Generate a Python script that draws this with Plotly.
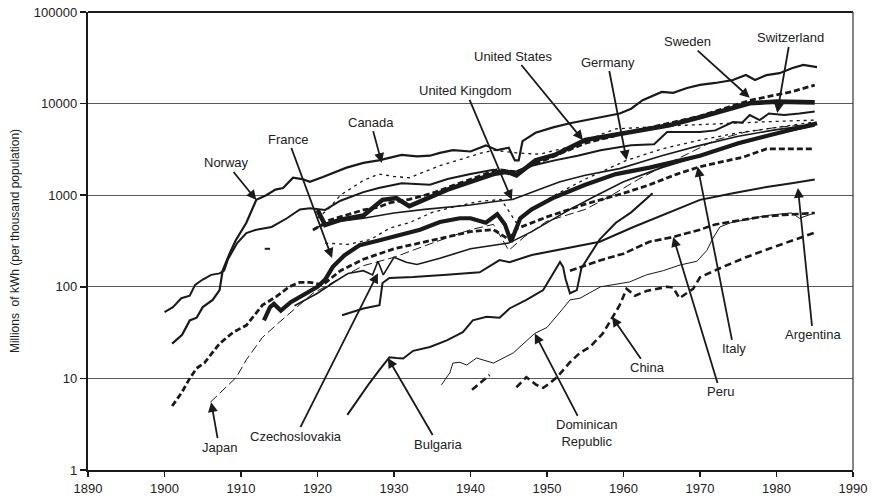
import plotly.graph_objects as go
import math

# ---------------- data (kWh per capita) ----------------
norway_years = [1901, 1902.3, 1903.3, 1904.2, 1905, 1906.3, 1907.2, 1907.6, 1908.5, 1909.3, 1910.7, 1912, 1913.3, 1914.5,
                1915.5, 1916.8, 1918, 1919, 1920.7, 1922, 1923.8, 1926, 1928, 1931, 1933, 1934.7, 1936, 1937.7, 1940,
                1942, 1943.5, 1945, 1945.8, 1946.3, 1946.8, 1948.5, 1950.8, 1953, 1955.2, 1957, 1959.5, 1961, 1962.5,
                1965, 1966.5, 1968.3, 1970, 1972, 1974.3, 1976, 1977.2, 1978.7, 1980.4, 1982, 1983.5, 1985.3]
norway_values = [24, 30, 43, 46, 60, 72, 92, 150, 230, 320, 500, 890, 1000, 1150,
                 1200, 1550, 1500, 1400, 1580, 1750, 2000, 2250, 2400, 2750, 2650, 2700, 2900, 3100, 3000,
                 3500, 3100, 3300, 2400, 2400, 3900, 4800, 5500, 6100, 6600, 7100, 7800, 8800, 10900,
                 13400, 13100, 14800, 16000, 16800, 18100, 20500, 18100, 20500, 21500, 24300, 26400, 25000]

canada_years = [1920, 1921.5, 1923, 1926, 1928, 1930, 1932, 1934, 1936, 1939, 1941.5, 1943, 1946, 1949, 1952.5,
                1955, 1957, 1959, 1962, 1966, 1970, 1975, 1980, 1985]
canada_values = [560, 720, 1000, 1450, 1700, 1600, 1550, 1800, 2100, 2500, 2900, 3100, 2900, 2800, 3300,
                 3800, 4600, 5300, 5500, 5700, 5900, 6200, 6400, 6600]

us_years = [1920, 1921, 1923, 1926, 1928.5, 1930.3, 1932, 1934.7, 1937, 1940, 1943, 1944.8, 1946, 1948.5, 1951,
            1955, 1957, 1961, 1966, 1970, 1974, 1976.5, 1980, 1985]
us_values = [690, 473, 540, 600, 890, 930, 760, 950, 1150, 1400, 1700, 1800, 1650, 2400, 2750,
             4000, 4300, 4900, 5800, 7100, 8900, 10100, 10500, 10300]

sweden_years = [1919.4, 1921.6, 1923.8, 1926, 1928, 1929.5, 1932, 1935, 1938, 1941, 1943.5, 1946, 1950, 1955,
                1960, 1965, 1970, 1974, 1976.5, 1979, 1982, 1985]
sweden_values = [417, 536, 608, 690, 740, 830, 900, 1050, 1300, 1600, 1900, 1800, 2500, 3700,
                 4700, 5900, 7300, 9300, 10800, 12000, 13500, 15900]

swiss_years = [1900, 1901.1, 1902.2, 1903.3, 1904, 1905, 1906.1, 1907.2, 1907.8, 1908.3, 1909.5, 1910.7, 1912,
               1914, 1916, 1917.7, 1919, 1921, 1923, 1926, 1928, 1931, 1934.7, 1937, 1940, 1943, 1945, 1948,
               1951, 1954, 1957, 1961, 1964, 1965.7, 1970, 1972, 1974.3, 1975.5, 1976.5, 1977.8, 1979, 1981,
               1983, 1985]
swiss_values = [53, 60, 75, 80, 105, 120, 135, 140, 150, 200, 300, 385, 420,
                450, 560, 700, 720, 690, 870, 1080, 1200, 1350, 1300, 1500, 1700, 1900, 1700, 2100,
                2400, 2700, 3100, 3500, 3600, 4900, 4900, 5100, 6300, 6200, 7500, 6600, 7800, 7500,
                7800, 8200]

france_years = [1913, 1913.8, 1914.3, 1915.2, 1916.5, 1917.7, 1920, 1921, 1922, 1923.5, 1925.5, 1928, 1930.7,
                1933.4, 1936, 1938.6, 1940, 1942, 1943.5, 1944.5, 1945.3, 1946.5, 1948, 1951, 1955, 1959,
                1963.4, 1970, 1975, 1978, 1983, 1985.3]
france_values = [43, 60, 65, 55, 68, 78, 100, 120, 165, 220, 285, 320, 370,
                 420, 510, 560, 560, 500, 620, 480, 310, 560, 700, 950, 1300, 1700,
                 2000, 2700, 3700, 4300, 5400, 6100]

italy_years = [1901, 1902.2, 1903.3, 1904.2, 1905.2, 1906.3, 1907.2, 1909, 1910.7, 1912.8, 1914.6, 1916.3,
               1917.7, 1919, 1920.7, 1923, 1926, 1930, 1935, 1940, 1943, 1945, 1946, 1948, 1950, 1955, 1960,
               1963.4, 1967, 1970, 1975.6, 1978.7, 1982, 1985]
italy_values = [5, 6.9, 10, 12.9, 14.7, 19, 24, 32, 38, 63, 78, 100,
                112, 112, 105, 150, 200, 260, 320, 400, 420, 330, 430, 500, 580, 800, 1050,
                1300, 1700, 2050, 2600, 3200, 3200, 3200]

japan_years = [1906, 1908, 1909.4, 1910.7, 1912.8, 1915, 1917.3, 1919.4, 1921, 1923, 1926, 1930, 1935, 1940,
               1943, 1945, 1947, 1950, 1955, 1958, 1962, 1966, 1970, 1972, 1976, 1980, 1985]
japan_values = [5.5, 8, 10.3, 16, 28, 41, 60, 85, 100, 125, 170, 210, 300, 420,
                480, 250, 350, 520, 700, 950, 1500, 2250, 3300, 4000, 4900, 5500, 6000]

germany_years = [1921, 1924, 1927, 1929.5, 1932, 1935, 1938, 1941, 1944, 1946, 1948, 1951, 1955, 1960.4, 1965,
                 1970, 1975, 1980, 1985]
germany_values = [300, 290, 330, 440, 500, 650, 750, 850, 900, 500, 700, 1000, 1500, 2400, 3200,
                  4000, 4800, 5500, 6300]

uk_years = [1920, 1923, 1926, 1930, 1934, 1937, 1940, 1943, 1945.5, 1949.5, 1951.7, 1955, 1959.5, 1965, 1970,
            1975, 1980, 1985]
uk_values = [450, 520, 560, 640, 700, 740, 780, 850, 900, 1200, 1400, 1650, 1950, 2700, 3500,
             4400, 5200, 5900]

czech_years = [1917, 1920, 1922, 1924, 1926, 1927.2, 1927.9, 1928.6, 1930, 1931.6, 1933, 1936, 1940, 1945,
               1948, 1950, 1953, 1956, 1960, 1965, 1970, 1975, 1980, 1985]
czech_values = [62, 85, 110, 140, 150, 135, 190, 135, 210, 185, 175, 205, 260, 300,
                400, 500, 700, 950, 1400, 2000, 2700, 3600, 4700, 5700]

argentina_years = [1923.2, 1926, 1928.1, 1928.5, 1929.4, 1932.5, 1936.9, 1941.2, 1943.8, 1945.1, 1948, 1952.6,
                   1956.9, 1961.3, 1965, 1970, 1974.3, 1978.7, 1982, 1985]
argentina_values = [49, 58, 63, 110, 125, 128, 135, 144, 196, 186, 222, 265,
                    310, 450, 600, 890, 1050, 1230, 1350, 1480]

bulgaria_years = [1923.9, 1925.5, 1926.8, 1928.1, 1929.4, 1930.3, 1931.2, 1932.5, 1934.7, 1936.9, 1939, 1940.3,
                  1942.1, 1943.8, 1945.1, 1947.3, 1949.5, 1950.8, 1951.7, 1952.1, 1952.4, 1953, 1953.9, 1954.5,
                  1956.9, 1959, 1961, 1963.8]
bulgaria_values = [4, 6.3, 8.9, 12.4, 17, 16.7, 16.5, 20, 22, 26, 32, 43,
                   47, 46, 58, 72, 92, 140, 187, 165, 124, 85, 92, 160,
                   330, 500, 650, 1050]

dominican_years = [1936.2, 1937.3, 1937.7, 1938.6, 1939.5, 1940.8, 1943, 1945.6, 1948.4, 1950, 1952.1, 1953,
                   1954.3, 1957, 1960.8, 1963, 1965.2, 1967.4, 1969.6, 1970.9, 1971.7, 1972.6, 1974, 1978.7,
                   1981, 1982, 1983, 1985]
dominican_values = [8.5, 11.5, 14.7, 15, 14, 16.7, 14.7, 19, 31, 36, 58, 72,
                    75, 100, 113, 135, 150, 173, 190, 250, 340, 450, 500, 600,
                    630, 640, 560, 640]

peru_years = [1953, 1955, 1957, 1960, 1963.4, 1966.5, 1970, 1972, 1975, 1978, 1981, 1985]
peru_values = [150, 170, 195, 230, 310, 350, 420, 480, 530, 580, 610, 640]

china_years = [1940.2, 1942.5, None, 1946, 1947.3, 1948.6, 1949.5, 1950.4, 1951.3, 1953, 1954.3, 1955.6, 1957.3,
               1958.6, 1959.5, 1960.4, 1961.5, 1963, 1965.7, 1966.5, 1967.3, 1969.1, 1970, 1973, 1976, 1979,
               1982, 1985]
china_values = [7.5, 10.9, None, 8, 10.3, 8.5, 7.9, 8.9, 10.3, 15, 19, 22, 31,
                47, 63, 95, 80, 90, 100, 98, 75, 95, 127, 165, 210, 260,
                320, 390]

fragment_years = [1913.1, 1913.8]
fragment_values = [260, 260]

# annotation labels: text, arrow tip (year, value), text offset in px
labels = ["Norway", "France", "Canada", "United Kingdom", "United States", "Germany", "Sweden", "Switzerland",
          "Italy", "Argentina", "Peru", "China", "Dominican<br>Republic", "Bulgaria", "Czechoslovakia", "Japan"]
label_tip_years = [1912.0, 1921.9, 1928.4, 1945.4, 1954.7, 1960.4, 1976.5, 1980.1,
                   1969.7, 1982.8, 1966.5, 1958.5, 1948.4, 1929.2, 1927.9, 1906.1]
label_tip_values = [887, 206, 2240, 890, 4000, 2420, 11600, 7900,
                    2040, 1200, 350, 47, 31, 16.7, 141, 5.5]
label_dx = [-30, -44, -11, -46, -69, -19, -62, 13, 36, 15, 47, 35, 52, 50, -82, 8]
label_dy = [-37, -119, -41, -109, -84, -98, -56, -75, 182, 147, 155, 51, 100, 86, 163, 45]

x_ticks = list(range(1890, 1991, 10))
y_ticks = [1, 10, 100, 1000, 10000, 100000]
y_tick_text = ["1", "10", "100", "1000", "10000", "100000"]

# ---------------- figure ----------------
INK = "#1a1a1a"
fig = go.Figure()

def add(xs, ys, width, dash="solid", color=INK):
    fig.add_trace(go.Scatter(x=xs, y=ys, mode="lines", connectgaps=False,
                             line=dict(color=color, width=width, dash=dash, shape="linear"),
                             hoverinfo="skip", showlegend=False))

add(norway_years, norway_values, 2.2)
add(canada_years, canada_values, 1.3, "3px,4px")
add(swiss_years, swiss_values, 2.0)
add(uk_years, uk_values, 1.6)
add(germany_years, germany_values, 1.3, "3px,4px")
add(japan_years, japan_values, 1.0, "9px,4px")
add(czech_years, czech_values, 1.6)
add(argentina_years, argentina_values, 2.0)
add(bulgaria_years, bulgaria_values, 2.0)
add(dominican_years, dominican_values, 1.0)
add(peru_years, peru_values, 2.6, "7px,3px")
add(china_years, china_values, 2.6, "7px,4px")
add(italy_years, italy_values, 2.8, "6px,3px")
add(sweden_years, sweden_values, 2.8, "6px,3px")
add(france_years, france_values, 4.2)
add(us_years, us_values, 4.6)
add(fragment_years, fragment_values, 2.0)

FONT = "Liberation Sans, Arial, Helvetica, sans-serif"
for t, xv, yv, dx, dy in zip(labels, label_tip_years, label_tip_values, label_dx, label_dy):
    fig.add_annotation(x=xv, y=math.log10(yv), text=t, showarrow=True, ax=dx, ay=dy,
                       arrowhead=2, arrowsize=1.1, arrowwidth=1.8, arrowcolor=INK, standoff=0,
                       font=dict(family=FONT, size=13, color="#222"), align="center")

fig.update_layout(
    width=873, height=501,
    margin=dict(l=88, r=20, t=12, b=31, autoexpand=False),
    paper_bgcolor="white", plot_bgcolor="white",
    font=dict(family=FONT, size=13, color="#222"),
    showlegend=False,
    xaxis=dict(range=[1890, 1990], tickmode="array", tickvals=x_ticks, ticks="outside", ticklen=5,
               tickwidth=1.5, tickcolor=INK, showline=True, linewidth=2.2, linecolor=INK,
               showgrid=False, zeroline=False, tickfont=dict(size=13), automargin=False),
    yaxis=dict(type="log", range=[0, 5], tickmode="array", tickvals=y_ticks, ticktext=y_tick_text,
               ticks="outside", ticklen=6, tickwidth=1.5, tickcolor=INK, showline=True, linewidth=2.2,
               linecolor=INK, showgrid=True, gridcolor="#5a5a5a", gridwidth=1, zeroline=False,
               tickfont=dict(size=13), automargin=False,
               title=dict(text="Millions  of kWh (per thousand population)", font=dict(size=12),
                          standoff=12)),
    shapes=[
        dict(type="line", xref="paper", yref="paper", x0=0, x1=1, y0=1, y1=1,
             line=dict(color=INK, width=2.2)),
        dict(type="line", xref="paper", yref="paper", x0=1, x1=1, y0=0, y1=1,
             line=dict(color="#333", width=1.2)),
    ],
)

fig.write_html("out.html", config={"displayModeBar": False, "staticPlot": True},
               post_script="document.body.style.margin='0px';")
